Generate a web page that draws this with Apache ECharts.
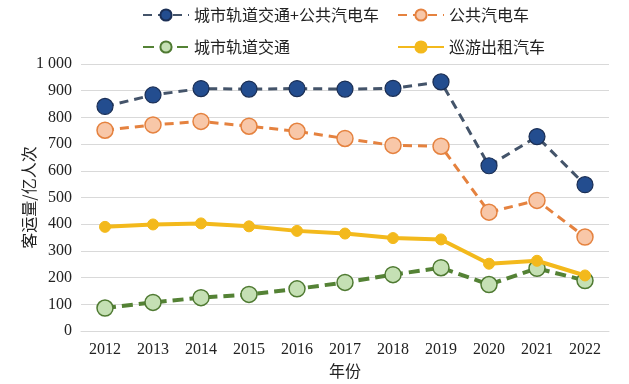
<!DOCTYPE html>
<html><head><meta charset="utf-8">
<script src="https://cdn.jsdelivr.net/npm/echarts@6/dist/echarts.min.js"></script>
<style>html,body{margin:0;padding:0;background:#fff}#c{width:629px;height:384px}</style>
</head><body><div id="c"></div>
<script>
const years = ['2012','2013','2014','2015','2016','2017','2018','2019','2020','2021','2022'];
const totalRailBus = [841, 884, 908, 906, 908, 906, 909, 933, 619, 728, 548];
const bus = [752, 772, 785, 767, 748, 721, 695, 692, 445, 489, 352];
const rail = [86, 107, 125, 137, 158, 182, 211, 237, 174, 235, 189];
const taxi = [390, 399, 403, 392, 375, 365, 348, 343, 252, 263, 208];
const yTicks = [0, 100, 200, 300, 400, 500, 600, 700, 800, 900, 1000];

const chart = echarts.init(document.getElementById('c'), null, {renderer: 'canvas'});
const cjk = '"Noto Sans CJK SC", "Noto Sans", sans-serif';
const serif = '"Liberation Serif", "DejaVu Serif", serif';
const legendText = {fontFamily: cjk, fontSize: 16, color: '#222'};
function leg(name, left, top) {
  return {data: [name], left: left, top: top, itemWidth: 46, itemHeight: 14, itemGap: 8,
    padding: 0, textStyle: legendText, selectedMode: false};
}
chart.setOption({
  animation: false,
  legend: [
    leg('城市轨道交通+公共汽电车', 142, 7),
    leg('公共汽电车', 397, 7),
    leg('城市轨道交通', 142, 39),
    leg('巡游出租汽车', 397, 39)
  ],
  grid: {left: 81, right: 20, top: 64, bottom: 53, containLabel: false},
  xAxis: {
    type: 'category', data: years, boundaryGap: true,
    name: '年份', nameLocation: 'middle', nameGap: 30,
    nameTextStyle: {fontFamily: cjk, fontSize: 16, color: '#222'},
    axisLine: {show: true, lineStyle: {color: '#d9d9d9', width: 1}},
    axisTick: {show: false},
    axisLabel: {fontFamily: serif, fontSize: 16, color: '#222', margin: 11}
  },
  yAxis: {
    type: 'value', min: 0, max: 1000, interval: 100,
    name: '客运量/亿人次', nameLocation: 'middle', nameGap: 44, nameRotate: 90,
    nameMoveOverlap: false,
    nameTextStyle: {fontFamily: cjk, fontSize: 16, color: '#222'},
    axisLine: {show: false}, axisTick: {show: false},
    splitLine: {lineStyle: {color: '#d9d9d9', width: 1}},
    axisLabel: {fontFamily: serif, fontSize: 16, color: '#222', margin: 9,
      formatter: v => yTicks.includes(v) ? (v === 1000 ? '1 000' : String(v)) : ''}
  },
  series: [
    {name: '城市轨道交通+公共汽电车', type: 'line', data: totalRailBus, symbol: 'circle', symbolSize: 16,
      lineStyle: {color: '#44546a', width: 3, type: [9, 6]},
      itemStyle: {color: '#234d8f', borderColor: '#1b2f55', borderWidth: 1.2}, z: 4},
    {name: '公共汽电车', type: 'line', data: bus, symbol: 'circle', symbolSize: 16,
      lineStyle: {color: '#e5823f', width: 3, type: [9, 6]},
      itemStyle: {color: '#f8c7a8', borderColor: '#e5823f', borderWidth: 1.5}, z: 3},
    {name: '城市轨道交通', type: 'line', data: rail, symbol: 'circle', symbolSize: 16,
      lineStyle: {color: '#548235', width: 4, type: [11, 6]},
      itemStyle: {color: '#c5e0b4', borderColor: '#4f7a32', borderWidth: 1.5}, z: 2},
    {name: '巡游出租汽车', type: 'line', data: taxi, symbol: 'circle', symbolSize: 11,
      lineStyle: {color: '#f3b91c', width: 4, type: 'solid'},
      itemStyle: {color: '#f3b91c', borderColor: '#f3b91c', borderWidth: 1}, z: 5}
  ]
});
</script></body></html>
